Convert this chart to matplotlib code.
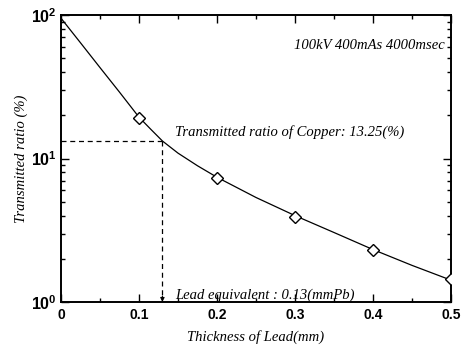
import numpy as np
import matplotlib.pyplot as plt
from matplotlib.ticker import FixedLocator, LogLocator, NullFormatter

# measured points (diamonds)
thick = [0.1, 0.2, 0.3, 0.4, 0.5]
ratio = [19.2, 7.3, 3.9, 2.3, 1.45]

# fitted curve
curve_x = [0.0, 0.025, 0.05, 0.075, 0.1, 0.115, 0.13, 0.15, 0.175, 0.2,
           0.25, 0.3, 0.35, 0.4, 0.45, 0.5]
curve_y = [95, 64, 43, 29, 19.4, 16.0, 13.25, 10.9, 8.9, 7.4,
           5.35, 4.0, 3.05, 2.32, 1.8, 1.42]

cu_ratio = 13.25
pb_equiv = 0.13

serif = "Liberation Serif"
sans = "Liberation Sans"

plt.rcParams["mathtext.fontset"] = "custom"
plt.rcParams["mathtext.bf"] = "Liberation Sans:bold"

fig = plt.figure(figsize=(4.64, 3.45), dpi=100)
ax = fig.add_axes([0.1315, 0.1246, 0.8405, 0.8319])

ax.plot(curve_x, curve_y, "-", color="black", lw=0.9, zorder=2)
ax.plot(thick, ratio, "D", ms=6, mfc="white", mec="black", mew=1.0, zorder=3)

# copper reference lines
ax.plot([0, pb_equiv], [cu_ratio, cu_ratio], color="black", lw=0.9,
        dashes=(4, 3))
ax.plot([pb_equiv, pb_equiv], [cu_ratio, 1.08], color="black", lw=0.9,
        dashes=(4, 3))
ax.annotate("", xy=(pb_equiv, 1.0), xytext=(pb_equiv, 1.1),
            arrowprops=dict(arrowstyle="-|>", color="black", lw=0.8,
                            mutation_scale=6, shrinkA=0, shrinkB=0))

ax.set_yscale("log")
ax.set_xlim(0, 0.5)
ax.set_ylim(1, 100)

ax.xaxis.set_major_locator(FixedLocator([0, 0.1, 0.2, 0.3, 0.4, 0.5]))
ax.xaxis.set_minor_locator(FixedLocator(np.arange(0.05, 0.5, 0.1)))
ax.set_xticklabels(["0", "0.1", "0.2", "0.3", "0.4", "0.5"])
ax.yaxis.set_major_locator(FixedLocator([1, 10, 100]))
ax.yaxis.set_minor_locator(LogLocator(base=10, subs=np.arange(2, 10)))
ax.yaxis.set_minor_formatter(NullFormatter())
ax.set_yticklabels([r"$\mathbf{10^0}$", r"$\mathbf{10^1}$", r"$\mathbf{10^2}$"])

ax.tick_params(which="both", direction="in", top=True, right=True,
               width=1.0)
ax.tick_params(which="major", length=6, labelsize=10, pad=4)
ax.tick_params(axis="y", which="major", labelsize=11.5, pad=3)
ax.tick_params(which="minor", length=3)
for lab in ax.get_xticklabels() + ax.get_yticklabels():
    lab.set_fontfamily(sans)
    lab.set_fontweight("bold")
for sp in ax.spines.values():
    sp.set_linewidth(1.4)

tkw = dict(family=serif, style="italic", fontsize=10.5)
ax.text(0.985, 0.895, "100kV 400mAs 4000msec", transform=ax.transAxes,
        ha="right", va="center", **tkw)
ax.text(0.146, cu_ratio * 1.03, "Transmitted ratio of Copper: 13.25(%)",
        ha="left", va="bottom", **tkw)
ax.text(0.146, 1.12, "Lead equivalent : 0.13(mmPb)", ha="left",
        va="center", **tkw)

ax.set_xlabel("Thickness of Lead(mm)", labelpad=6, **tkw)
ax.set_ylabel("Transmitted ratio (%)", labelpad=2, **tkw)

fig.savefig("out.png", dpi=100)
